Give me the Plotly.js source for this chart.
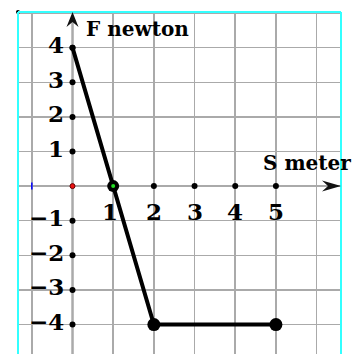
<!DOCTYPE html>
<html><head><meta charset="utf-8">
<script src="https://cdn.plot.ly/plotly-3.0.1.min.js"></script>
<style>html,body{margin:0;padding:0;background:#fff}</style>
</head><body><div id="chart" style="width:360px;height:354px"></div>
<script>
// data
const sValues = [0, 1, 2, 5];
const fValues = [4, 0, -4, -4];
const yTickVals = [4, 3, 2, 1, -1, -2, -3, -4];
const yTickText = ['4', '3', '2', '1', '\u22121', '\u22122', '\u22123', '\u22124'];
const xTickVals = [1, 2, 3, 4, 5];
const xTickText = ['1', '2', '3', '4', '5'];
const xAxisTitle = 'S meter';
const yAxisTitle = 'F newton';

const X_RANGE = [-1.34, 6.6];
const Y_RANGE = [-4.85, 5.03];
const FONT = 'DejaVu Serif';

const traces = [
  // axis dots on y axis
  {x: yTickVals.map(() => 0), y: yTickVals, mode: 'markers', type: 'scatter',
   marker: {size: 6, color: '#000', opacity: 1}, hoverinfo: 'skip'},
  // axis dots on x axis
  {x: xTickVals.slice(1), y: xTickVals.slice(1).map(() => 0), mode: 'markers', type: 'scatter',
   marker: {size: 6, color: '#000', opacity: 1}, hoverinfo: 'skip'},
  // main graph
  {x: sValues, y: fValues, mode: 'lines+markers', type: 'scatter',
   line: {color: '#000', width: 4},
   marker: {size: [6, 12, 13, 13], color: '#000', opacity: 1, line: {color: '#000', width: 0}}, hoverinfo: 'skip'},
  // green centre at zero crossing
  {x: [sValues[1]], y: [fValues[1]], mode: 'markers', type: 'scatter',
   marker: {size: 4, color: '#22dd22', opacity: 1}, hoverinfo: 'skip'},
  // red origin dot
  {x: [0], y: [0], mode: 'markers', type: 'scatter',
   marker: {size: 5, color: '#ee1111', line: {color: '#660000', width: 1}}, hoverinfo: 'skip'},
  // blue tick at -1
  {x: [-1], y: [0], mode: 'markers', type: 'scatter',
   marker: {size: 5, symbol: 'line-ns-open', color: '#0000ff', line: {color: '#0000ff', width: 1.5}}, hoverinfo: 'skip'},
  // corner dot
  {x: [X_RANGE[0]], y: [Y_RANGE[1]], mode: 'markers', type: 'scatter', cliponaxis: false,
   marker: {size: 4, color: '#000'}, hoverinfo: 'skip'}
];

const annotations = [];
yTickVals.forEach((v, i) => annotations.push({
  x: 0, y: v, xref: 'x', yref: 'y', text: yTickText[i], showarrow: false,
  xanchor: 'right', yanchor: 'middle', xshift: -7, yshift: 3,
  font: {family: FONT, size: 23, color: '#000', weight: 700}
}));
xTickVals.forEach((v, i) => annotations.push({
  x: v, y: 0, xref: 'x', yref: 'y', text: xTickText[i], showarrow: false,
  xanchor: 'center', yanchor: 'top', xshift: i === 0 ? -3 : 0, yshift: -10,
  font: {family: FONT, size: 23, color: '#000', weight: 700}
}));
annotations.push({
  x: 0, y: Y_RANGE[1], xref: 'x', yref: 'y', text: yAxisTitle, showarrow: false,
  xanchor: 'left', yanchor: 'top', xshift: 11, yshift: -3,
  font: {family: FONT, size: 20, color: '#000', weight: 700}
});
annotations.push({
  x: X_RANGE[1], y: 0, xref: 'x', yref: 'y', text: xAxisTitle, showarrow: false,
  xanchor: 'right', yanchor: 'bottom', xshift: 12, yshift: 9,
  font: {family: FONT, size: 20, color: '#000', weight: 700}
});

const shapes = [
  // cyan frame
  {type: 'line', xref: 'paper', yref: 'paper', x0: 0, x1: 0, y0: 0, y1: 1, line: {color: '#33ffff', width: 2}},
  {type: 'line', xref: 'paper', yref: 'paper', x0: 0, x1: 1, y0: 1, y1: 1, line: {color: '#33ffff', width: 2}},
  {type: 'line', xref: 'paper', yref: 'paper', x0: 1, x1: 1, y0: 0, y1: 1, line: {color: '#33ffff', width: 2}},
  // axes
  {type: 'line', xref: 'x', yref: 'y', x0: X_RANGE[0], x1: X_RANGE[1] - 0.2, y0: 0, y1: 0, line: {color: '#000', width: 1.5}, layer: 'below'},
  {type: 'line', xref: 'x', yref: 'y', x0: 0, x1: 0, y0: Y_RANGE[0], y1: Y_RANGE[1] - 0.2, line: {color: '#000', width: 1.5}, layer: 'below'},
  // arrowheads
  {type: 'path', xref: 'x', yref: 'y', xsizemode: 'pixel', ysizemode: 'pixel', xanchor: X_RANGE[1], yanchor: 0,
   path: 'M0,0 L-19,-5.5 L-13,0 L-19,5.5 Z', fillcolor: '#111', line: {width: 0}},
  {type: 'path', xref: 'x', yref: 'y', xsizemode: 'pixel', ysizemode: 'pixel', xanchor: 0, yanchor: Y_RANGE[1],
   path: 'M0,0 L-6,-15 L0,-10 L6,-15 Z', fillcolor: '#111', line: {width: 0}}
];

const layout = {
  width: 360, height: 354,
  margin: {l: 18, r: 19, t: 12, b: 0, pad: 0},
  paper_bgcolor: '#fff', plot_bgcolor: '#fff',
  showlegend: false,
  xaxis: {range: X_RANGE, dtick: 1, tick0: 0, showgrid: true, gridcolor: '#aaaaaa', gridwidth: 1.5,
          zeroline: false, showticklabels: false, ticks: '', showline: false, fixedrange: true},
  yaxis: {range: Y_RANGE, dtick: 1, tick0: 0, showgrid: true, gridcolor: '#aaaaaa', gridwidth: 1.5,
          zeroline: false, showticklabels: false, ticks: '', showline: false, fixedrange: true},
  annotations: annotations,
  shapes: shapes
};

Plotly.newPlot('chart', traces, layout, {staticPlot: true, displayModeBar: false});
</script></body></html>
